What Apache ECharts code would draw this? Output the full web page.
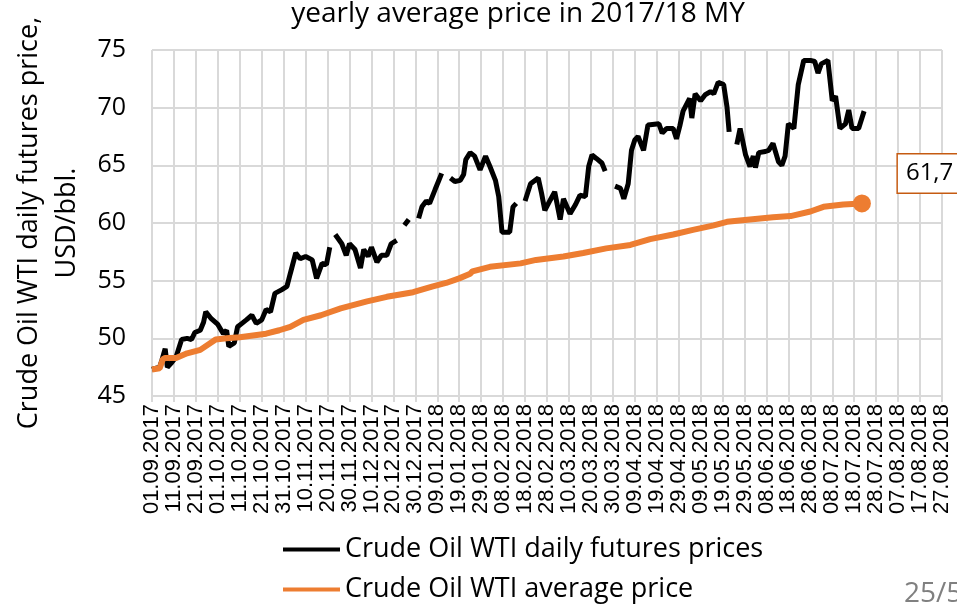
<!DOCTYPE html>
<html>
<head>
<meta charset="utf-8">
<title>Crude Oil WTI</title>
<script src="https://cdn.jsdelivr.net/npm/echarts@6/dist/echarts.min.js"></script>
<style>
    html, body { margin: 0; padding: 0; background: #fff; }
    #chart { width: 957px; height: 606px; }
</style>
</head>
<body>
<div id="chart"></div>
<script>
// day index counted from 01.09.2017, one tick label every 10 days
var tickLabels = [
    '01.09.2017', '11.09.2017', '21.09.2017', '01.10.2017', '11.10.2017', '21.10.2017',
    '31.10.2017', '10.11.2017', '20.11.2017', '30.11.2017', '10.12.2017', '20.12.2017',
    '30.12.2017', '09.01.2018', '19.01.2018', '29.01.2018', '08.02.2018', '18.02.2018',
    '28.02.2018', '10.03.2018', '20.03.2018', '30.03.2018', '09.04.2018', '19.04.2018',
    '29.04.2018', '09.05.2018', '19.05.2018', '29.05.2018', '08.06.2018', '18.06.2018',
    '28.06.2018', '08.07.2018', '18.07.2018', '28.07.2018', '07.08.2018', '17.08.2018',
    '27.08.2018'
];

// daily futures prices (null = no quote, line breaks there)
var dailyDays = [
    0, 3.5, 4.5, 6, 6.5, 7, 9, 11, 13.5, 16, 18, 19.5, 22, 23.5, 24.5, 27, 30, 32.5, 34, 35,
    37.5, 39, 41, 43, 45.5, 47.5, 50, 52, 54, 56, 59, 61.5, 63, 65.5, 67.5, 70, 73, 75, 77.5, 79.5,
    81, 82, 83.5, 86.5, 88.5, 90, 92.5, 95, 96.5, 98.5, 100, 102.5, 104.5, 107, 109, 111.5, 113, 115, 117, 119,
    121.5, 123, 125, 126.5, 129, 130.5, 132, 134, 136, 138, 140.5, 142, 143, 145, 147, 149.5, 152, 154, 156.5, 158,
    159.5, 163, 164.5, 166, 168, 170, 172.5, 176, 177.5, 179, 181.5, 183.5, 186, 187.5, 190.5, 193, 195, 197.5, 199, 200.5,
    202.5, 205, 206.5, 209, 211, 213.5, 215, 217, 218.5, 220, 221.5, 224, 226, 231, 232.5, 234.5, 237.5, 239, 240.5, 242,
    245, 246, 247.5, 250, 252, 254.5, 256, 258, 260.5, 262, 263, 264.5, 266.5, 268, 270.5, 272.5, 274, 275, 276.5, 279.5,
    281, 283, 285.5, 287, 288.5, 290, 292.5, 294.5, 297, 300, 302, 303.5, 305, 308, 310, 311.5, 313.5, 316, 317.5, 319,
    322, 324.5
];
var dailyPrices = [
    47.3, 47.5, 48.1, 49.1, 49.0, 47.5, 47.9, 48.4, 49.9, 50.0, 49.9, 50.5, 50.7, 51.4, 52.3, 51.7, 51.2, 50.4, 50.7, 49.3,
    49.6, 51.0, 51.3, 51.6, 52.0, 51.3, 51.6, 52.5, 52.3, 53.9, 54.2, 54.5, 55.6, 57.4, 56.9, 57.1, 56.8, 55.2, 56.5, 56.4,
    57.9, null, 59.0, 58.2, 57.2, 58.2, 57.7, 56.1, 57.7, 57.1, 57.9, 56.6, 57.2, 57.2, 58.2, 58.5, null, 59.8, 60.3, null,
    60.4, 61.4, 61.9, 61.7, 62.9, 63.6, 64.3, null, 63.9, 63.6, 63.7, 64.2, 65.5, 66.1, 65.8, 64.6, 65.8, 64.9, 63.7, 62.3,
    59.2, 59.2, 61.4, 61.7, null, 61.9, 63.4, 63.9, 62.6, 61.1, 62.0, 62.7, 60.3, 62.1, 60.8, 61.6, 62.4, 62.3, 64.9, 65.9,
    65.6, 65.2, 64.5, null, 63.2, 63.0, 62.1, 63.4, 66.3, 67.2, 67.5, 66.3, 68.5, 68.6, 67.8, 68.2, 68.2, 67.3, 68.4, 69.7,
    70.8, 69.1, 71.2, 70.6, 71.1, 71.4, 71.2, 72.2, 72.0, 70.1, 67.9, null, 66.8, 68.2, 65.9, 64.9, 65.8, 64.8, 66.1, 66.2,
    66.3, 66.9, 65.3, 65.0, 65.8, 68.6, 68.2, 72.0, 74.1, 74.1, 74.0, 73.0, 73.8, 74.1, 70.6, 71.0, 68.2, 68.6, 69.8, 68.2,
    68.2, 69.7
];

// running average price
var avgDays = [
    0, 3.5, 5, 6, 11, 16, 22, 29, 34, 40, 52, 58, 63, 69, 77, 86, 98, 107, 119, 128,
    134, 140, 145, 146, 154, 168, 175, 187.5, 196.5, 207, 218, 227, 237.5, 246.5, 256, 262, 272.5, 283, 291, 300,
    306, 315, 323.5
];
var avgPrices = [
    47.3, 47.4, 48.2, 48.3, 48.3, 48.7, 49.0, 49.9, 50.0, 50.1, 50.4, 50.7, 51.0, 51.6, 52.0, 52.6, 53.2, 53.6, 54.0, 54.5,
    54.8, 55.2, 55.6, 55.8, 56.2, 56.5, 56.8, 57.1, 57.4, 57.8, 58.1, 58.6, 59.0, 59.4, 59.8, 60.1, 60.3, 60.5, 60.6, 61.0,
    61.4, 61.6, 61.7
];

var seriesNames = ['Crude Oil WTI daily futures prices', 'Crude Oil WTI average price'];

var dailyData = dailyDays.map(function (d, i) {
    return [d, dailyPrices[i] === null ? '-' : dailyPrices[i]];
});
var avgData = avgDays.map(function (d, i) {
    return [d, avgPrices[i]];
});
// last average point gets the marker and the value box
var last = avgData.length - 1;
avgData[last] = {
    value: avgData[last],
    symbol: 'circle',
    symbolSize: 18,
    label: {
        show: true,
        position: 'right',
        offset: [22, -30],
        formatter: function (p) {
            return String(p.value[1]).replace('.', ',');
        },
        fontFamily: 'Open Sans',
        fontSize: 24,
        color: '#000',
        backgroundColor: '#fff',
        borderColor: '#c55a11',
        borderWidth: 1.5,
        padding: [8, 8, 6, 8]
    }
};

var font = 'Open Sans';
var gridColor = '#d9d9d9';

var chart = echarts.init(document.getElementById('chart'));

chart.setOption({
    animation: false,
    backgroundColor: '#fff',
    title: {
        text: 'yearly average price in 2017/18 MY',
        left: 513,
        textAlign: 'center',
        top: -5,
        textStyle: { fontFamily: font, fontSize: 28, fontWeight: 'normal', color: '#000' }
    },
    legend: {
        data: seriesNames,
        orient: 'vertical',
        left: 283,
        top: 535,
        height: 71,
        padding: 0,
        icon: 'rect',
        itemWidth: 57,
        itemHeight: 4,
        itemGap: 11,
        itemTextGap: 3,
        textStyle: { fontFamily: font, fontSize: 27, color: '#000', lineHeight: 29 }
    },
    grid: { left: 152, right: 15, top: 50, bottom: 210, containLabel: false, outerBoundsMode: 'none' },
    xAxis: {
        type: 'value',
        min: 0,
        max: 360,
        interval: 10,
        axisLine: { show: true, lineStyle: { color: gridColor, width: 2 } },
        axisTick: { show: true, length: 6, lineStyle: { color: gridColor, width: 2 } },
        splitLine: { show: true, lineStyle: { color: gridColor, width: 2 } },
        axisLabel: {
            rotate: 90,
            margin: 8,
            fontFamily: 'Liberation Sans',
            fontSize: 22,
            color: '#000',
            showMinLabel: true,
            showMaxLabel: true,
            formatter: function (v) {
                return tickLabels[Math.round(v / 10)];
            }
        }
    },
    yAxis: {
        type: 'value',
        min: 45,
        max: 75,
        interval: 5,
        name: 'Crude Oil WTI daily futures price,\nUSD/bbl.',
        nameLocation: 'middle',
        nameRotate: 90,
        nameGap: 62,
        nameTextStyle: { fontFamily: font, fontSize: 27, color: '#000', lineHeight: 38 },
        axisLine: { show: false },
        axisTick: { show: false },
        splitLine: { show: true, lineStyle: { color: gridColor, width: 2 } },
        axisLabel: { margin: 26, fontFamily: font, fontSize: 25, color: '#000' }
    },
    series: [{
        name: seriesNames[0],
        type: 'line',
        data: dailyData,
        symbol: 'none',
        connectNulls: false,
        color: '#000',
        lineStyle: { color: '#000', width: 5 }
    }, {
        name: seriesNames[1],
        type: 'line',
        data: avgData,
        symbol: 'none',
        color: '#ed7d31',
        itemStyle: { color: '#ed7d31' },
        lineStyle: { color: '#ed7d31', width: 6 }
    }],
    graphic: [{
        type: 'text',
        left: 904,
        top: 580,
        style: { text: '25/5', fontFamily: font, fontSize: 28, fill: '#808080' }
    }]
});
</script>
</body>
</html>
